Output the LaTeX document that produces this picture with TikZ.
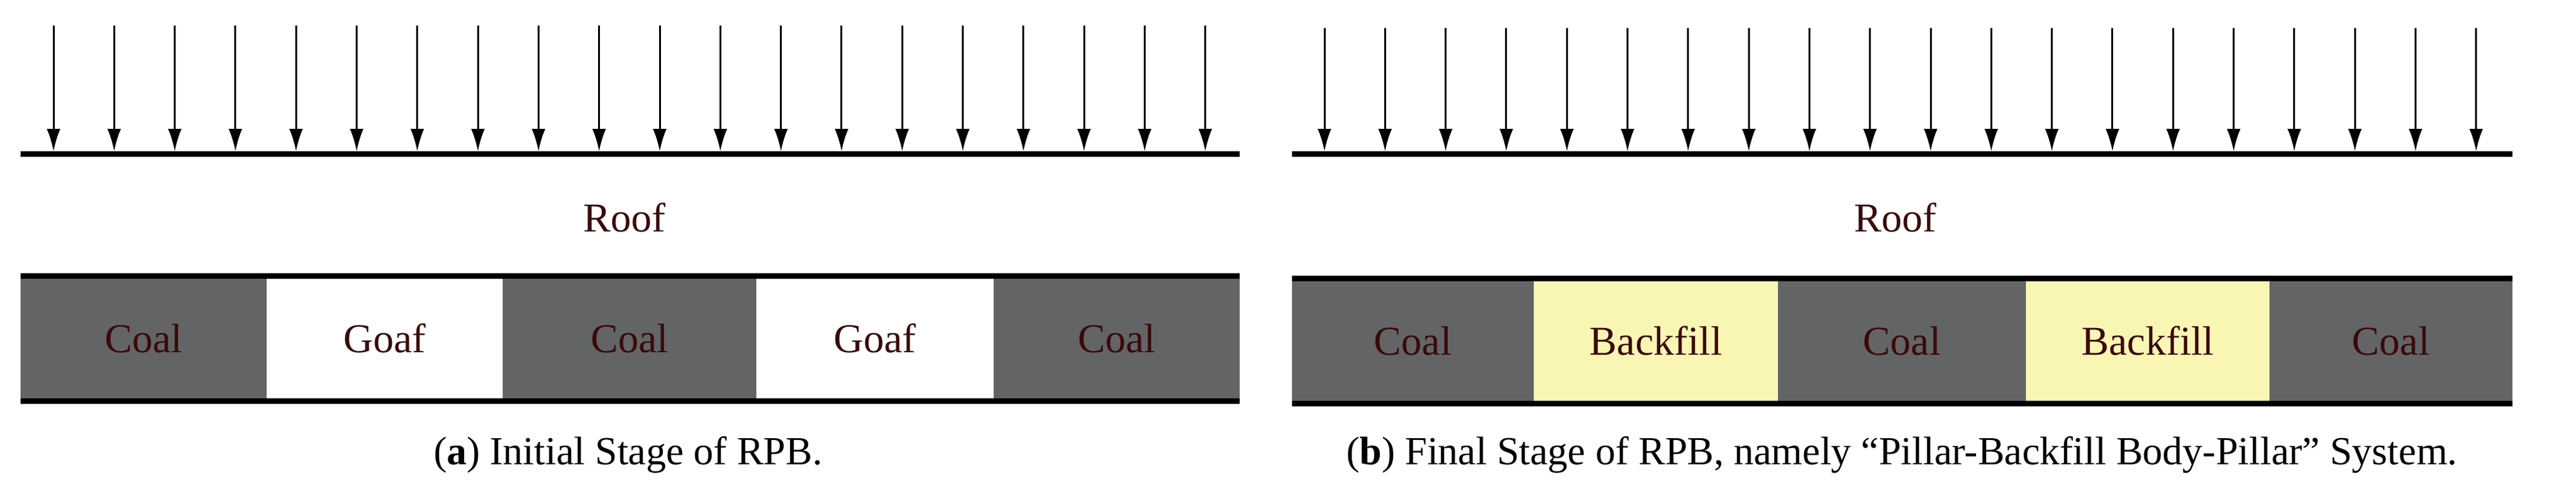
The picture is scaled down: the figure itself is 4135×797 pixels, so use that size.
\documentclass[tikz,border=0pt]{standalone}
\usepackage{fontspec}
\setmainfont{Liberation Serif}
\usetikzlibrary{arrows.meta}
\definecolor{coal}{HTML}{636466}
\definecolor{bfill}{HTML}{F9F6B4}
\definecolor{lbl}{HTML}{3A0A0A}
\begin{document}
\begin{tikzpicture}[x=1pt,y=-1pt,
  load/.style={line width=3pt,-{Latex[length=36pt,width=22pt]}},
  beam/.style={line width=9pt},
  blk/.style={draw=none,minimum height=201pt,anchor=north west,inner sep=0pt,text=lbl,font=\fontsize{66}{76}\selectfont},
  lab/.style={text=lbl,font=\fontsize{66}{76}\selectfont},
  captxt/.style={font=\fontsize{64}{74}\selectfont}]
\useasboundingbox (0,0) rectangle (4135,797);
% panel a
\foreach \i in {0,...,19}{
  \coordinate (at\i) at ({86+\i*97.3},41);
  \coordinate (ab\i) at ({86+\i*97.3},243);
  \draw[load] (at\i) -- (ab\i);}
\coordinate (ra1) at (33,247); \coordinate (ra2) at (1990,247);
\draw[beam] (ra1) -- (ra2);
\node[lab] (roofa) at (1002,350) {Roof};
\node[blk,fill=coal,minimum width=395pt] (a1) at (33,443) {Coal};
\node[blk,fill=white,minimum width=379pt] (a2) at (428,443) {Goaf};
\node[blk,fill=coal,minimum width=407pt] (a3) at (807,443) {Coal};
\node[blk,fill=white,minimum width=381pt] (a4) at (1214,443) {Goaf};
\node[blk,fill=coal,minimum width=395pt] (a5) at (1595,443) {Coal};
\draw[beam] (a1.north west) -- (a5.north east);
\draw[beam] (a1.south west) -- (a5.south east);
\node[captxt] (capa) at (1008,731) {(\textbf{a}) Initial Stage of RPB.};
% panel b
\foreach \i in {0,...,19}{
  \coordinate (bt\i) at ({2126+\i*97.3},45);
  \coordinate (bb\i) at ({2126+\i*97.3},243);
  \draw[load] (bt\i) -- (bb\i);}
\coordinate (rb1) at (2074,247); \coordinate (rb2) at (4033,247);
\draw[beam] (rb1) -- (rb2);
\node[lab] (roofb) at (3042,350) {Roof};
\node[blk,fill=coal,minimum width=388pt] (b1) at (2074,447) {Coal};
\node[blk,fill=bfill,minimum width=392pt] (b2) at (2462,447) {Backfill};
\node[blk,fill=coal,minimum width=398pt] (b3) at (2854,447) {Coal};
\node[blk,fill=bfill,minimum width=391pt] (b4) at (3252,447) {Backfill};
\node[blk,fill=coal,minimum width=390pt] (b5) at (3643,447) {Coal};
\draw[beam] (b1.north west) -- (b5.north east);
\draw[beam] (b1.south west) -- (b5.south east);
\node[captxt] (capb) at (3053,731) {(\textbf{b}) Final Stage of RPB, namely “Pillar-Backfill Body-Pillar” System.};
\end{tikzpicture}
\end{document}
